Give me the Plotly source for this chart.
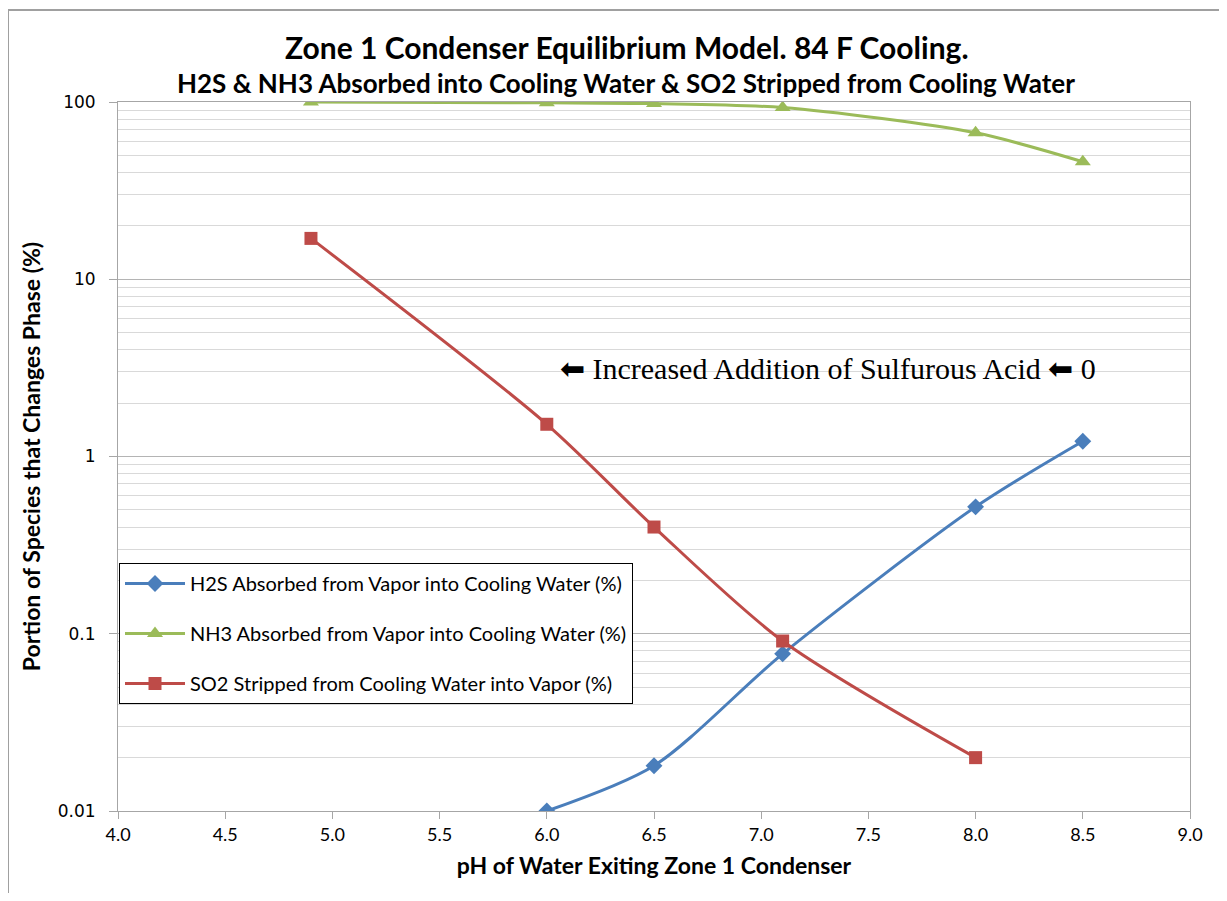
import plotly.graph_objects as go

ph_h2s = [6.0, 6.5, 7.1, 8.0, 8.5]
h2s = [0.010, 0.018, 0.077, 0.52, 1.22]

ph_nh3 = [4.9, 6.0, 6.5, 7.1, 8.0, 8.5]
nh3 = [100, 99, 98, 93, 67, 46]

ph_so2 = [4.9, 6.0, 6.5, 7.1, 8.0]
so2 = [17.0, 1.52, 0.40, 0.091, 0.020]

y_tickvals = [0.01, 0.1, 1, 10, 100]
y_ticktext = ["0.01", "0.1", "1", "10", "100"]
x_tickvals = [4.0, 4.5, 5.0, 5.5, 6.0, 6.5, 7.0, 7.5, 8.0, 8.5, 9.0]
x_ticktext = ["4.0", "4.5", "5.0", "5.5", "6.0", "6.5", "7.0", "7.5", "8.0", "8.5", "9.0"]

title = "Zone 1 Condenser Equilibrium Model. 84 F Cooling."
subtitle = "H2S & NH3 Absorbed into Cooling Water & SO2 Stripped from Cooling Water"
annot = "\u2b05 Increased Addition of Sulfurous Acid \u2b05 0"

fig = go.Figure()
fig.add_trace(go.Scatter(x=ph_h2s, y=h2s, mode="lines+markers",
    name="H2S Absorbed from Vapor into Cooling Water (%)", legendgroup="a",
    line=dict(color="#4A7EBB", width=3, shape="spline", smoothing=0.8),
    marker=dict(symbol="diamond", size=13, color="#4A7EBB")))
fig.add_trace(go.Scatter(x=ph_nh3, y=nh3, mode="lines+markers",
    name="NH3 Absorbed from Vapor into Cooling Water (%)", legendgroup="b",
    line=dict(color="#9BBB59", width=3, shape="spline", smoothing=0.8),
    marker=dict(symbol="triangle-up", size=14, color="#9BBB59")))
fig.add_trace(go.Scatter(x=ph_so2, y=so2, mode="lines+markers",
    name="SO2 Stripped from Cooling Water into Vapor (%)", legendgroup="c",
    line=dict(color="#BE4B48", width=3, shape="spline", smoothing=0.8),
    marker=dict(symbol="square", size=13, color="#BE4B48")))

OFF = 8  # page body offset
W, H = 1211, 885
L = 118 - OFF
T = 102 - OFF
R = W - (1190 - OFF)
B = H - (811 - OFF)
pw, ph = W - L - R, H - T - B

def px(xs):
    return (xs - OFF - L) / pw

def py(ys):
    return (H - B - (ys - OFF)) / ph

fig.update_layout(
    width=W, height=H,
    margin=dict(l=L, r=R, t=T, b=B, autoexpand=False),
    paper_bgcolor="white", plot_bgcolor="white",
    font=dict(family="Lato", color="#000000"),
    showlegend=True,
    legend=dict(x=px(119), y=py(563), xanchor="left", yanchor="top",
                bgcolor="white", bordercolor="#000000", borderwidth=1,
                font=dict(family="Lato", size=20, color="#000000"),
                traceorder="grouped", tracegroupgap=21, itemwidth=60),
    xaxis=dict(range=[4.0, 9.0], tickvals=x_tickvals, ticktext=x_ticktext,
               showgrid=False, zeroline=False, showline=True, linecolor="#A6A6A6",
               linewidth=1, mirror=True, ticks="outside", ticklen=7, tickcolor="#A6A6A6",
               tickfont=dict(family="Lato", size=18, color="#000000"),
               title=dict(text="<b>pH of Water Exiting Zone 1 Condenser</b>",
                          font=dict(family="Lato", size=23), standoff=14)),
    yaxis=dict(type="log", range=[-2, 2], tickvals=y_tickvals, ticktext=y_ticktext,
               showgrid=True, gridcolor="#B4B4B4", gridwidth=1,
               minor=dict(showgrid=True, gridcolor="#D9D9D9", gridwidth=1,
                          dtick="D1"),
               zeroline=False, showline=True, linecolor="#A6A6A6", linewidth=1,
               mirror=True, ticks="outside", ticklen=8, tickcolor="#A6A6A6",
               ticklabelstandoff=10,
               tickfont=dict(family="DejaVu Sans", size=17, color="#000000"),
               title=dict(text="<b>Portion of Species that Changes Phase (%)</b>",
                          font=dict(family="Lato", size=23), standoff=10)),
)

fig.add_annotation(x=px(627), y=py(47), xref="paper", yref="paper",
                   xanchor="center", yanchor="middle",
                   text="<b>" + title + "</b>", showarrow=False,
                   font=dict(family="Lato", size=30, color="#000000"))
fig.add_annotation(x=px(626), y=py(83), xref="paper", yref="paper",
                   xanchor="center", yanchor="middle",
                   text="<b>" + subtitle + "</b>", showarrow=False,
                   font=dict(family="Lato", size=26, color="#000000"))
fig.add_annotation(x=px(558), y=py(368), xref="paper", yref="paper",
                   xanchor="left", yanchor="middle", text=annot, showarrow=False,
                   font=dict(family="Liberation Serif", size=30, color="#000000"))

fig.add_shape(type="line", xref="paper", yref="paper",
              x0=px(8), x1=px(8), y0=py(10), y1=py(905),
              line=dict(color="#A0A0A0", width=2))
fig.add_shape(type="line", xref="paper", yref="paper",
              x0=px(8), x1=px(1230), y0=py(10), y1=py(10),
              line=dict(color="#A0A0A0", width=2))

fig.write_html("out.html")
